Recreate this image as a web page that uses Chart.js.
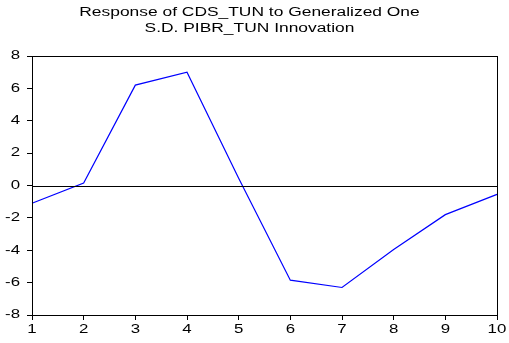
<!DOCTYPE html>
<html>
<head>
<meta charset="utf-8">
<script src="https://cdn.jsdelivr.net/npm/chart.js@4/dist/chart.umd.min.js"></script>
<style>
  html, body { margin: 0; padding: 0; background: #fff; }
  #wrap { width: 509px; height: 343px; }
</style>
</head>
<body>
<div id="wrap"><canvas id="irf"></canvas></div>
<script>
'use strict';

// impulse response, periods 1..10
const periods = ['1', '2', '3', '4', '5', '6', '7', '8', '9', '10'];
const response = [-1.1, 0.15, 6.2, 7.0, 0.45, -5.85, -6.3, -3.95, -1.8, -0.55];
const titleLines = ['Response of CDS_TUN to Generalized One', 'S.D. PIBR_TUN Innovation'];
const yMin = -8;
const yMax = 8;
const yStep = 2;

const font = 'Liberation Sans, Arial, sans-serif';

// text is drawn wide (stretched horizontally), so labels are painted here
function wideText(ctx, str, x, y, align, size, sx) {
  ctx.save();
  ctx.translate(x, y);
  ctx.scale(sx, 1);
  ctx.font = size + 'px ' + font;
  ctx.fillStyle = '#000';
  ctx.textAlign = align;
  ctx.textBaseline = 'middle';
  ctx.fillText(str, 0, 0);
  ctx.restore();
}

// box around the plot, zero line, title and tick labels
const frame = {
  id: 'frame',
  afterDatasetsDraw(chart) {
    const ctx = chart.ctx;
    const a = chart.chartArea;
    const sx = chart.scales.x;
    const sy = chart.scales.y;
    const y0 = Math.round(sy.getPixelForValue(0)) + 0.5;
    ctx.save();
    ctx.strokeStyle = '#000';
    ctx.lineWidth = 1;
    ctx.beginPath();
    ctx.moveTo(a.left, y0);
    ctx.lineTo(a.right, y0);
    ctx.stroke();
    ctx.strokeRect(Math.round(a.left) + 0.5, Math.round(a.top) + 0.5,
      Math.round(a.right - a.left), Math.round(a.bottom - a.top));
    ctx.restore();

    sy.ticks.forEach(function(t) {
      wideText(ctx, String(t.value), a.left - 12, sy.getPixelForValue(t.value), 'right', 12, 1.4);
    });
    periods.forEach(function(p, i) {
      wideText(ctx, p, sx.getPixelForValue(i), a.bottom + 15, 'center', 12.5, 1.35);
    });
    const cx = chart.width / 2 - 5;
    wideText(ctx, titleLines[0], cx, a.top - 43, 'center', 12, 1.45);
    wideText(ctx, titleLines[1], cx, a.top - 27, 'center', 12, 1.45);
  }
};

const ctx = document.getElementById('irf').getContext('2d');
new Chart(ctx, {
  type: 'line',
  data: {
    labels: periods,
    datasets: [{
      data: response,
      borderColor: '#0000ff',
      borderWidth: 1.2,
      pointRadius: 0,
      tension: 0,
      fill: false
    }]
  },
  options: {
    responsive: true,
    maintainAspectRatio: false,
    animation: false,
    layout: { padding: { left: 0, right: 12, top: 56, bottom: 0 } },
    plugins: {
      legend: { display: false },
      tooltip: { enabled: false },
      title: { display: false }
    },
    scales: {
      x: {
        offset: false,
        grid: { drawOnChartArea: false, color: '#000', tickLength: 5, tickColor: '#000' },
        border: { display: false },
        ticks: { color: 'rgba(0,0,0,0)', font: { family: font, size: 12 }, maxRotation: 0, autoSkip: false },
        afterFit(scale) { scale.height = 28; }
      },
      y: {
        min: yMin,
        max: yMax,
        grid: { drawOnChartArea: false, color: '#000', tickLength: 5, tickColor: '#000' },
        border: { display: false },
        ticks: { stepSize: yStep, color: 'rgba(0,0,0,0)', font: { family: font, size: 12 } },
        afterFit(scale) { scale.width = 32; }
      }
    }
  },
  plugins: [frame]
});
</script>
</body>
</html>
